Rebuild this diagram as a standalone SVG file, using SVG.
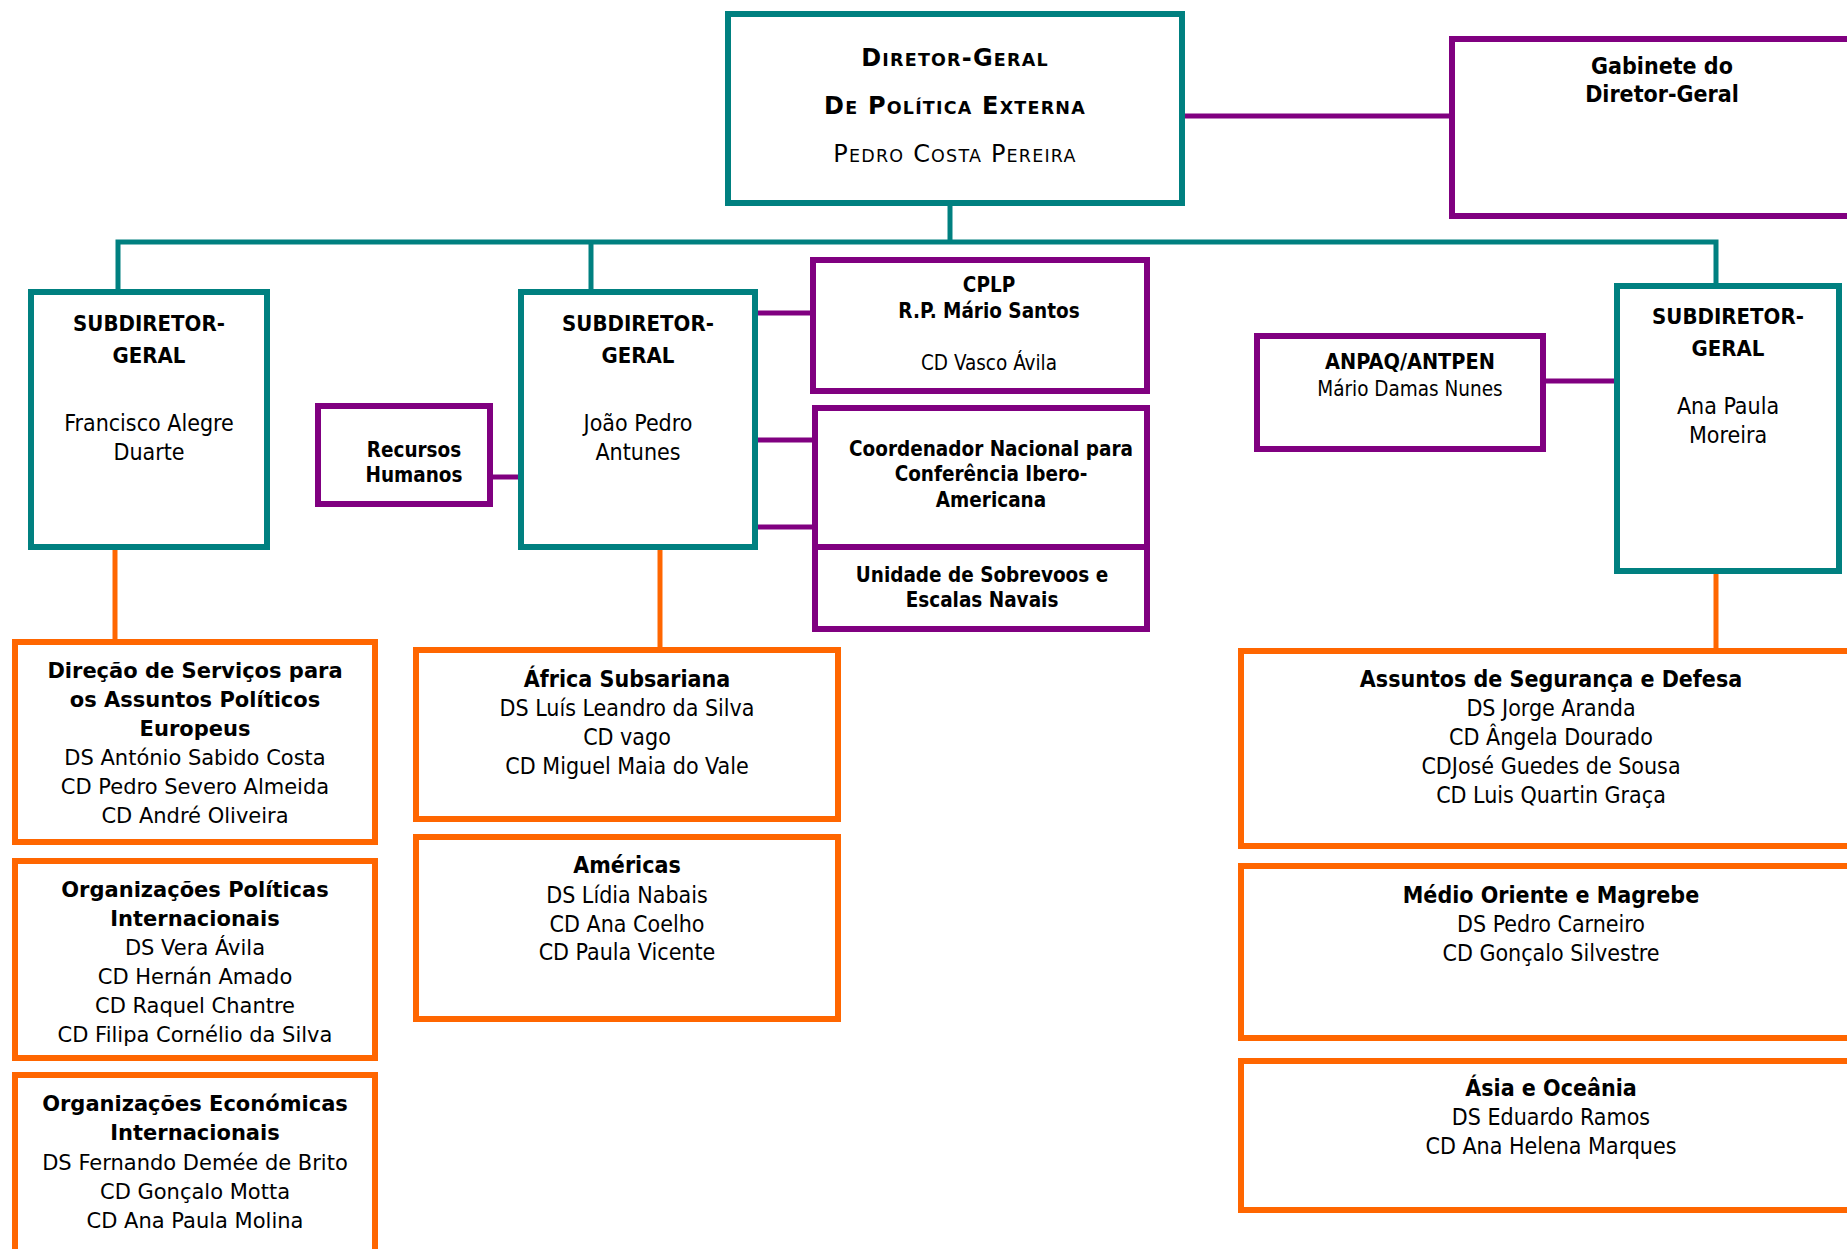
<svg xmlns="http://www.w3.org/2000/svg" width="1847" height="1249" viewBox="0 0 1847 1249">
<style>
.bx{fill:#fff;stroke-width:6}
.teal{stroke:#008080}
.pur{stroke:#800080}
.org{stroke:#FF6600}
.ln{fill:none;stroke-width:5}
text{font-family:"DejaVu Sans Condensed","DejaVu Sans",sans-serif;font-stretch:condensed;fill:#000;text-anchor:middle}
.t{font-size:23px}
.tb{font-size:23px;font-weight:bold}
.s{font-size:20.5px}
.sb{font-size:20.5px;font-weight:bold}
.sub{font-size:22px;font-weight:bold}
.v{font-family:"DejaVu Sans",Verdana,sans-serif;font-stretch:normal;font-size:21px}
.vb{font-family:"DejaVu Sans",Verdana,sans-serif;font-stretch:normal;font-size:21px;font-weight:bold}
.hd{font-family:"DejaVu Sans",Verdana,sans-serif;font-stretch:normal;font-size:24px;letter-spacing:1.2px}
.sc{font-size:17.5px}
</style>
<rect width="1847" height="1249" fill="#fff"/>
<g id="connectors">
<path class="ln teal" d="M950,206V242"/>
<path class="ln teal" d="M118,289V242H1716V289"/>
<path class="ln teal" d="M591,242V289"/>
<path class="ln pur" d="M1185,116H1449"/>
<path class="ln pur" d="M493,477H518"/>
<path class="ln pur" d="M758,313H810"/>
<path class="ln pur" d="M758,440H812"/>
<path class="ln pur" d="M758,527H812"/>
<path class="ln pur" d="M1546,381H1614"/>
<path class="ln org" d="M115,550V639"/>
<path class="ln org" d="M660,550V647"/>
<path class="ln org" d="M1716,574V648"/>
</g>
<g id="diretor-geral">
<rect class="bx teal" x="728" y="14" width="454" height="189"/>
<text class="hd" x="955" y="66" font-weight="bold">D<tspan class="sc">IRETOR</tspan>-G<tspan class="sc">ERAL</tspan></text>
<text class="hd" x="955" y="114" font-weight="bold">D<tspan class="sc">E</tspan> P<tspan class="sc">OLÍTICA</tspan> E<tspan class="sc">XTERNA</tspan></text>
<text class="hd" x="955" y="162">P<tspan class="sc">EDRO</tspan> C<tspan class="sc">OSTA</tspan> P<tspan class="sc">EREIRA</tspan></text>
</g>
<g id="gabinete">
<rect class="bx pur" x="1452" y="39" width="430" height="177"/>
<text class="tb" x="1662" y="74">Gabinete do</text>
<text class="tb" x="1662" y="102">Diretor-Geral</text>
</g>
<g id="subdir-1">
<rect class="bx teal" x="31" y="292" width="236" height="255"/>
<text class="sub" x="149" y="331">SUBDIRETOR-</text>
<text class="sub" x="149" y="363">GERAL</text>
<text class="t" x="149" y="431">Francisco Alegre</text>
<text class="t" x="149" y="460">Duarte</text>
</g>
<g id="recursos-humanos">
<rect class="bx pur" x="318" y="406" width="172" height="98"/>
<text class="sb" x="414" y="457">Recursos</text>
<text class="sb" x="414" y="482">Humanos</text>
</g>
<g id="subdir-2">
<rect class="bx teal" x="521" y="292" width="234" height="255"/>
<text class="sub" x="638" y="331">SUBDIRETOR-</text>
<text class="sub" x="638" y="363">GERAL</text>
<text class="t" x="638" y="431">João Pedro</text>
<text class="t" x="638" y="460">Antunes</text>
</g>
<g id="cplp">
<rect class="bx pur" x="813" y="260" width="334" height="131"/>
<text class="sb" x="989" y="292">CPLP</text>
<text class="sb" x="989" y="318">R.P. Mário Santos</text>
<text class="s" x="989" y="370">CD Vasco Ávila</text>
</g>
<g id="coordenador">
<rect class="bx pur" x="815" y="408" width="332" height="139"/>
<text class="sb" x="991" y="456">Coordenador Nacional para</text>
<text class="sb" x="991" y="481">Conferência Ibero-</text>
<text class="sb" x="991" y="507">Americana</text>
</g>
<g id="unidade-sobrevoos">
<rect class="bx pur" x="815" y="547" width="332" height="82"/>
<text class="sb" x="982" y="582">Unidade de Sobrevoos e</text>
<text class="sb" x="982" y="607">Escalas Navais</text>
</g>
<g id="anpaq">
<rect class="bx pur" x="1257" y="336" width="286" height="113"/>
<text class="sb" x="1410" y="369" style="font-size:21.5px">ANPAQ/ANTPEN</text>
<text class="s" x="1410" y="396">Mário Damas Nunes</text>
</g>
<g id="subdir-3">
<rect class="bx teal" x="1617" y="286" width="222" height="285"/>
<text class="sub" x="1728" y="324">SUBDIRETOR-</text>
<text class="sub" x="1728" y="356">GERAL</text>
<text class="t" x="1728" y="414">Ana Paula</text>
<text class="t" x="1728" y="443">Moreira</text>
</g>
<g id="dsape">
<rect class="bx org" x="15" y="642" width="360" height="200"/>
<text class="vb" x="195" y="678">Direção de Serviços para</text>
<text class="vb" x="195" y="707">os Assuntos Políticos</text>
<text class="vb" x="195" y="736">Europeus</text>
<text class="v" x="195" y="765">DS António Sabido Costa</text>
<text class="v" x="195" y="794">CD Pedro Severo Almeida</text>
<text class="v" x="195" y="823">CD André Oliveira</text>
</g>
<g id="org-politicas">
<rect class="bx org" x="15" y="861" width="360" height="197"/>
<text class="vb" x="195" y="897">Organizações Políticas</text>
<text class="vb" x="195" y="926">Internacionais</text>
<text class="v" x="195" y="955">DS Vera Ávila</text>
<text class="v" x="195" y="984">CD Hernán Amado</text>
<text class="v" x="195" y="1013">CD Raquel Chantre</text>
<text class="v" x="195" y="1042">CD Filipa Cornélio da Silva</text>
</g>
<g id="org-economicas">
<rect class="bx org" x="15" y="1075" width="360" height="200"/>
<text class="vb" x="195" y="1111">Organizações Económicas</text>
<text class="vb" x="195" y="1140">Internacionais</text>
<text class="v" x="195" y="1170">DS Fernando Demée de Brito</text>
<text class="v" x="195" y="1199">CD Gonçalo Motta</text>
<text class="v" x="195" y="1228">CD Ana Paula Molina</text>
</g>
<g id="africa">
<rect class="bx org" x="416" y="650" width="422" height="169"/>
<text class="tb" x="627" y="687">África Subsariana</text>
<text class="t" x="627" y="716">DS Luís Leandro da Silva</text>
<text class="t" x="627" y="745">CD vago</text>
<text class="t" x="627" y="774">CD Miguel Maia do Vale</text>
</g>
<g id="americas">
<rect class="bx org" x="416" y="837" width="422" height="182"/>
<text class="tb" x="627" y="873">Américas</text>
<text class="t" x="627" y="903">DS Lídia Nabais</text>
<text class="t" x="627" y="932">CD Ana Coelho</text>
<text class="t" x="627" y="960">CD Paula Vicente</text>
</g>
<g id="seguranca-defesa">
<rect class="bx org" x="1241" y="651" width="620" height="195"/>
<text class="tb" x="1551" y="687">Assuntos de Segurança e Defesa</text>
<text class="t" x="1551" y="716">DS Jorge Aranda</text>
<text class="t" x="1551" y="745">CD Ângela Dourado</text>
<text class="t" x="1551" y="774">CDJosé Guedes de Sousa</text>
<text class="t" x="1551" y="803">CD Luis Quartin Graça</text>
</g>
<g id="medio-oriente">
<rect class="bx org" x="1241" y="866" width="620" height="172"/>
<text class="tb" x="1551" y="903">Médio Oriente e Magrebe</text>
<text class="t" x="1551" y="932">DS Pedro Carneiro</text>
<text class="t" x="1551" y="961">CD Gonçalo Silvestre</text>
</g>
<g id="asia-oceania">
<rect class="bx org" x="1241" y="1061" width="620" height="149"/>
<text class="tb" x="1551" y="1096">Ásia e Oceânia</text>
<text class="t" x="1551" y="1125">DS Eduardo Ramos</text>
<text class="t" x="1551" y="1154">CD Ana Helena Marques</text>
</g>
</svg>
